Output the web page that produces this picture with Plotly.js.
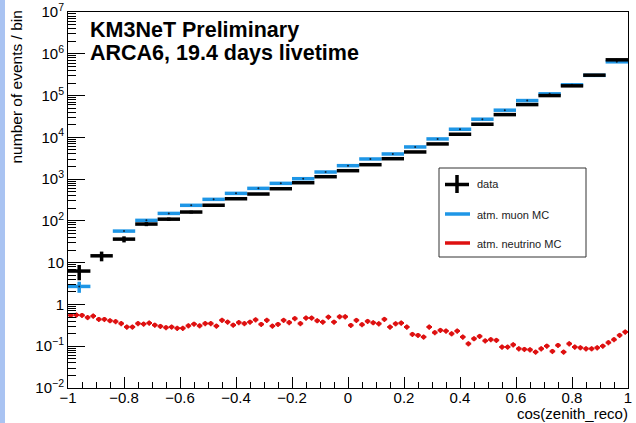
<!DOCTYPE html>
<html>
<head>
<meta charset="utf-8">
<script src="https://cdn.plot.ly/plotly-3.0.1.min.js"></script>
<style>html,body{margin:0;padding:0;background:#fff;}#chart{width:636px;height:423px;}</style>
</head>
<body>
<div id="chart"></div>
<script>
// 25 bins of width 0.08 in cos(zenith_reco)
const binCenters = [-0.96,-0.88,-0.80,-0.72,-0.64,-0.56,-0.48,-0.40,-0.32,-0.24,-0.16,-0.08,0.00,
                    0.08,0.16,0.24,0.32,0.40,0.48,0.56,0.64,0.72,0.80,0.88,0.96];
const dataCounts = [6.3,14.6,36.6,84,110,163,237,339,440,589,820,1142,1591,
                    2215,3080,4470,6950,11860,20600,35000,60800,100000,171000,308000,718000];
const muonMC = [2.7,null,57,103,151,236,328,456,601,792,1023,1480,2099,
                3034,4000,5890,9160,15630,27160,44700,75900,110000,181000,305000,643000];
const muonErr = [0.8,0,0,0,0,0,0,0,0,0,0,0,0,0,0,0,0,0,0,0,0,0,0,0,0];

// 100 bins of width 0.02
const nuCenters = [-0.99,-0.97,-0.95,-0.93,-0.91,-0.89,-0.87,-0.85,-0.83,-0.81,
                   -0.79,-0.77,-0.75,-0.73,-0.71,-0.69,-0.67,-0.65,-0.63,-0.61,
                   -0.59,-0.57,-0.55,-0.53,-0.51,-0.49,-0.47,-0.45,-0.43,-0.41,
                   -0.39,-0.37,-0.35,-0.33,-0.31,-0.29,-0.27,-0.25,-0.23,-0.21,
                   -0.19,-0.17,-0.15,-0.13,-0.11,-0.09,-0.07,-0.05,-0.03,-0.01,
                   0.01,0.03,0.05,0.07,0.09,0.11,0.13,0.15,0.17,0.19,
                   0.21,0.23,0.25,0.27,0.29,0.31,0.33,0.35,0.37,0.39,
                   0.41,0.43,0.45,0.47,0.49,0.51,0.53,0.55,0.57,0.59,
                   0.61,0.63,0.65,0.67,0.69,0.71,0.73,0.75,0.77,0.79,
                   0.81,0.83,0.85,0.87,0.89,0.91,0.93,0.95,0.97,0.99];
const nuMC = [0.55,0.56,0.55,0.49,0.53,0.44,0.44,0.41,0.39,0.35,
              0.29,0.29,0.35,0.34,0.36,0.32,0.30,0.28,0.29,0.27,
              0.27,0.31,0.34,0.31,0.35,0.35,0.305,0.42,0.38,0.32,
              0.37,0.35,0.38,0.43,0.335,0.42,0.305,0.335,0.42,0.37,
              0.46,0.35,0.475,0.475,0.41,0.38,0.50,0.38,0.51,0.51,
              0.317,0.418,0.329,0.395,0.367,0.347,0.442,0.289,0.347,0.36,
              0.289,0.193,0.183,0.167,0.289,0.212,0.241,0.232,0.20,0.232,
              0.167,0.115,0.152,0.173,0.135,0.144,0.139,0.096,0.096,0.109,
              0.0875,0.0843,0.0828,0.0728,0.0875,0.101,0.0755,0.105,0.0728,0.115,
              0.096,0.0925,0.0875,0.0875,0.0925,0.101,0.122,0.144,0.183,0.22];

const yTickVals = [0.01,0.1,1,10,100,1e3,1e4,1e5,1e6,1e7];
const yTickText = ['10<sup>\u22122</sup>','10<sup>\u22121</sup>','1','10','10<sup>2</sup>',
                   '10<sup>3</sup>','10<sup>4</sup>','10<sup>5</sup>','10<sup>6</sup>','10<sup>7</sup>'];
const legendLabels = ['data','atm. muon MC','atm. neutrino MC'];
const titleLines = ['KM3NeT Preliminary','ARCA6, 19.4 days livetime'];

const BLUE = 'rgb(30,150,230)';
const RED = 'rgb(222,16,16)';
const FONT = 'Liberation Sans, Arial, Helvetica, sans-serif';

// minor log ticks (2..9 within each decade)
const yMinor = [];
for (let d = -2; d < 7; d++) for (let m = 2; m <= 9; m++) yMinor.push(m * Math.pow(10, d));

const traces = [
  {type:'scatter', mode:'markers', x:nuCenters, y:nuMC,
   marker:{color:RED, size:4.5, symbol:'circle'},
   error_x:{type:'constant', value:0.01, thickness:2, width:0, color:RED},
   error_y:{type:'percent', value:14, thickness:1.5, width:0, color:RED},
   hoverinfo:'skip'},
  {type:'scatter', mode:'markers', x:binCenters, y:muonMC,
   marker:{color:'#123', size:2},
   error_x:{type:'constant', value:0.04, thickness:3.5, width:0, color:BLUE},
   error_y:{type:'data', array:muonErr, thickness:3.5, width:0, color:BLUE},
   hoverinfo:'skip'},
  {type:'scatter', mode:'markers', x:binCenters, y:dataCounts,
   marker:{color:'#000', size:2},
   error_x:{type:'constant', value:0.04, thickness:3.5, width:0, color:'#000'},
   error_y:{type:'data', array:dataCounts.map(Math.sqrt), thickness:3.5, width:0, color:'#000'},
   hoverinfo:'skip'}
];

// pixel helpers for layout placement (plot area: x 68..628, y 12..388)
const px = v => (v - 68) / 560;
const py = v => (388 - v) / 376;

const layout = {
  width:636, height:423,
  margin:{l:68, r:8, t:12, b:35, pad:0},
  paper_bgcolor:'#fff', plot_bgcolor:'#fff',
  showlegend:false,
  font:{family:FONT, size:15, color:'#000'},
  xaxis:{range:[-1,1], tick0:0, dtick:0.2, ticks:'inside', ticklen:11, tickwidth:1, tickcolor:'#000',
         minor:{ticks:'inside', ticklen:6, dtick:0.05, tickcolor:'#000', tickwidth:1},
         ticklabelstandoff:-4,
         showline:true, mirror:true, linecolor:'#000', linewidth:1,
         showgrid:false, zeroline:false, tickfont:{family:FONT, size:15, color:'#000'}},
  yaxis:{type:'log', range:[-2,7.0005], tickmode:'array', tickvals:yTickVals, ticktext:yTickText,
         ticks:'inside', ticklen:17, tickwidth:1, tickcolor:'#000',
         minor:{ticks:'inside', ticklen:8, tickmode:'array', tickvals:yMinor, tickcolor:'#000', tickwidth:1},
         showline:true, mirror:true, linecolor:'#000', linewidth:1,
         showgrid:false, zeroline:false, tickfont:{family:FONT, size:15, color:'#000'}},
  shapes:[
    {type:'rect', xref:'paper', yref:'paper', x0:px(0), x1:px(5), y0:py(423), y1:py(0),
     fillcolor:'#a9c3f2', line:{width:0}, layer:'below'},
    {type:'rect', xref:'paper', yref:'paper', x0:px(439), x1:px(586), y0:py(257), y1:py(168),
     fillcolor:'#fff', line:{color:'#333', width:1}},
    {type:'line', xref:'paper', yref:'paper', x0:px(445), x1:px(469), y0:py(184.5), y1:py(184.5),
     line:{color:'#000', width:3.5}},
    {type:'line', xref:'paper', yref:'paper', x0:px(457), x1:px(457), y0:py(175), y1:py(193),
     line:{color:'#000', width:3.5}},
    {type:'line', xref:'paper', yref:'paper', x0:px(445), x1:px(470), y0:py(214), y1:py(214),
     line:{color:BLUE, width:3.5}},
    {type:'line', xref:'paper', yref:'paper', x0:px(445), x1:px(470), y0:py(243), y1:py(243),
     line:{color:RED, width:3.5}}
  ],
  annotations:[
    {xref:'paper', yref:'paper', x:px(88), y:py(29.5), xanchor:'left', yanchor:'middle', showarrow:false,
     text:'<b>'+titleLines[0]+'</b>', font:{family:FONT, size:21.5, color:'#000'}},
    {xref:'paper', yref:'paper', x:px(88), y:py(53), xanchor:'left', yanchor:'middle', showarrow:false,
     text:'<b>'+titleLines[1]+'</b>', font:{family:FONT, size:21.5, color:'#000'}},
    {xref:'paper', yref:'paper', x:px(16), y:py(9), xanchor:'center', yanchor:'top', showarrow:false,
     textangle:-90, text:'number of events / bin', font:{family:FONT, size:15.5, color:'#000'}},
    {xref:'paper', yref:'paper', x:px(629), y:py(414), xanchor:'right', yanchor:'middle', showarrow:false,
     borderpad:0, text:'cos(zenith_reco)', font:{family:FONT, size:15, color:'#000'}},
    {xref:'paper', yref:'paper', x:px(475), y:py(184), xanchor:'left', yanchor:'middle', showarrow:false,
     text:legendLabels[0], font:{family:FONT, size:11, color:'#222'}},
    {xref:'paper', yref:'paper', x:px(475), y:py(214.5), xanchor:'left', yanchor:'middle', showarrow:false,
     text:legendLabels[1], font:{family:FONT, size:11, color:'#222'}},
    {xref:'paper', yref:'paper', x:px(475), y:py(244), xanchor:'left', yanchor:'middle', showarrow:false,
     text:legendLabels[2], font:{family:FONT, size:11, color:'#222'}}
  ]
};

Plotly.newPlot('chart', traces, layout, {displayModeBar:false, staticPlot:true});
</script>
</body>
</html>
